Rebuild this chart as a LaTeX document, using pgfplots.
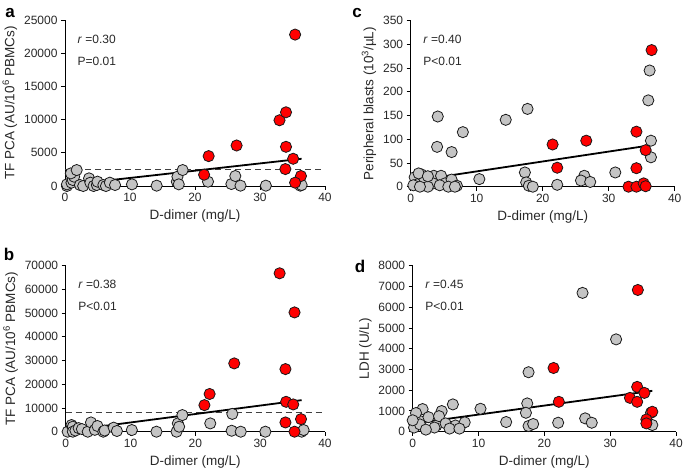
\documentclass[border=0pt]{standalone}
\usepackage{pgfplots}
\pgfplotsset{compat=1.18}
\usepackage{fontspec}
\setmainfont{Liberation Sans}
\definecolor{ptgray}{RGB}{196,196,196}
\definecolor{ptred}{RGB}{255,0,0}
\definecolor{txt}{RGB}{40,40,40}
\pgfplotsset{
  panel/.style={
    scale only axis, height=166pt,
    axis lines=left, axis line style={-, line width=0.9pt},
    xmin=0, xmax=40, ymin=0, xtick={0,10,20,30,40},
    tick align=outside, major tick length=4pt,
    tick style={black, line width=0.9pt},
    clip=false, enlargelimits=false,
    tick label style={font=\fontsize{12}{14}\selectfont, text=txt},
    label style={font=\fontsize{13.5}{15}\selectfont, text=txt},
    xlabel={D-dimer (mg/L)},
    xlabel style={yshift=-1pt},
    /pgf/number format/1000 sep={},
    /pgf/number format/assume math mode=true,
    scaled y ticks=false,
  },
  gpt/.style={only marks, mark=*, mark size=5.6pt, mark options={fill=ptgray, draw=black!90, line width=0.8pt}},
  rpt/.style={only marks, mark=*, mark size=5.6pt, mark options={fill=ptred, draw=black!90, line width=0.8pt}},
  reg/.style={black, line width=1.8pt},
  thr/.style={black!75, line width=1.4pt, dash pattern=on 6pt off 4pt},
}
\newcommand{\stats}[2]{%
  \node[anchor=west, font=\fontsize{12}{14}\selectfont, text=txt] at (rel axis cs:0.035,0.885) {\textit{r} =#1};
  \node[anchor=west, font=\fontsize{12}{14}\selectfont, text=txt] at (rel axis cs:0.035,0.753) {#2};
}
\begin{document}
\begin{tikzpicture}[x=1pt,y=1pt]
\useasboundingbox (0,0) rectangle (685,473);
% ---------- a ----------
\begin{axis}[panel, width=260pt, at={(65pt,287pt)}, anchor=south west,
  ymax=25000, ytick={0,5000,10000,15000,20000,25000},
  ylabel={TF PCA (AU/10\textsuperscript{6} PBMCs)}]
\addplot[gpt] table {
x y
0.3 0
0.3 250
1.0 500
1.2 900
1.4 1400
0.9 1900
1.8 2400
2.3 150
2.8 0
3.7 1150
3.9 500
4.4 0
4.9 150
5.0 650
5.9 150
6.3 0
6.9 500
7.7 150
10.3 250
14.1 50
17.2 650
17.3 1400
17.5 250
18.1 2400
22.0 650
25.6 300
26.2 1500
27.0 50
30.9 50
36.2 50
36.4 150
};
\addplot[rpt] table {
x y
21.4 1700
22.1 4500
26.4 6100
33.0 9900
34.0 11100
34.0 5900
33.9 2550
35.1 4100
35.4 22800
36.3 1500
35.4 500
};
\addplot[thr] coordinates {(0,2500) (40,2500)};
\addplot[reg] coordinates {(0.3,150) (36.4,4100)};
\stats{0.30}{P=0.01}
\end{axis}
% ---------- c ----------
\begin{axis}[panel, width=264pt, at={(410.7pt,286.3pt)}, anchor=south west,
  ymax=350, ytick={0,50,100,150,200,250,300,350},
  ylabel={Peripheral blasts (10\textsuperscript{3}/µL)}]
\addplot[gpt] table {
x y
4.1 148
4.0 84
6.2 73
7.9 115
14.4 141
17.7 164
36.2 245
36.0 182
36.4 97
36.4 62
31.0 30
26.3 23
25.8 13
27.2 10
22.2 4
17.3 30
17.5 9
17.9 2
18.5 0
10.4 16
0.6 20
1.6 26
1.0 5
0.4 3
2.1 15
3.5 23
4.6 23
5.2 7
6.2 15
7.0 2
3.4 7
4.4 3
5.7 0
2.6 0
1.4 0
6.7 0
1.2 28
2.6 22
};
\addplot[rpt] table {
x y
36.5 288
21.5 89
22.2 40
26.6 97
34.2 116
34.2 39
35.6 77
33.0 0
34.2 0
35.3 7
35.6 1
};
\addplot[reg] coordinates {(0.3,12) (36.2,87)};
\stats{0.40}{P<0.01}
\end{axis}
% ---------- b ----------
\begin{axis}[panel, width=259.3pt, at={(65.7pt,41.3pt)}, anchor=south west,
  ymax=70000, ytick={0,10000,20000,30000,40000,50000,60000,70000},
  ylabel={TF PCA (AU/10\textsuperscript{6} PBMCs)}]
\addplot[gpt] table {
x y
0.3 0
0.9 2800
1.1 2100
1.1 0
1.5 500
2.0 1500
2.5 1100
3.4 0
3.9 3900
4.5 800
4.9 2400
5.8 0
6.0 500
7.4 1700
7.9 300
10.2 700
14.0 0
17.1 0
17.3 3500
17.5 2100
18.0 7000
22.3 3500
25.6 400
25.7 7500
27.0 0
30.8 0
36.4 0
36.7 700
};
\addplot[rpt] table {
x y
21.4 11200
22.2 15900
26.0 28800
33.0 66800
33.9 26400
34.0 12600
33.9 3900
35.1 11500
35.3 50300
35.3 0
36.3 5300
};
\addplot[thr] coordinates {(0,8000) (40,8000)};
\addplot[reg] coordinates {(0.5,500) (36.4,13300)};
\stats{0.38}{P<0.01}
\end{axis}
% ---------- d ----------
\begin{axis}[panel, width=263.3pt, at={(412.7pt,41.3pt)}, anchor=south west,
  ymax=8000, ytick={0,1000,2000,3000,4000,5000,6000,7000,8000},
  ylabel={LDH (U/L)}]
\addplot[gpt] table {
x y
25.8 6690
30.9 4450
17.6 2866
17.4 1363
17.2 912
17.6 274
18.3 370
14.2 466
10.3 1104
6.1 1315
4.4 994
1.5 1090
22.1 432
26.2 643
27.2 432
36.2 912
36.4 322
0.2 200
1.2 500
2.4 700
3.6 300
4.0 750
5.0 400
6.5 300
7.9 450
0.5 900
1.1 350
3.3 200
5.6 150
7.1 150
0.0 550
2.0 100
};
\addplot[rpt] table {
x y
34.2 6830
21.4 3070
22.2 1440
34.1 2160
33.0 1630
34.1 1440
35.2 1870
36.4 960
35.5 590
35.5 400
};
\addplot[reg] coordinates {(0.2,400) (36.4,1970)};
\stats{0.45}{P<0.01}
\end{axis}
% panel letters
\node[font=\bfseries\fontsize{17}{17}\selectfont] at (10,460) {a};
\node[font=\bfseries\fontsize{17}{17}\selectfont] at (357,460) {c};
\node[font=\bfseries\fontsize{17}{17}\selectfont] at (9,219) {b};
\node[font=\bfseries\fontsize{17}{17}\selectfont] at (360,207) {d};
\end{tikzpicture}
\end{document}
